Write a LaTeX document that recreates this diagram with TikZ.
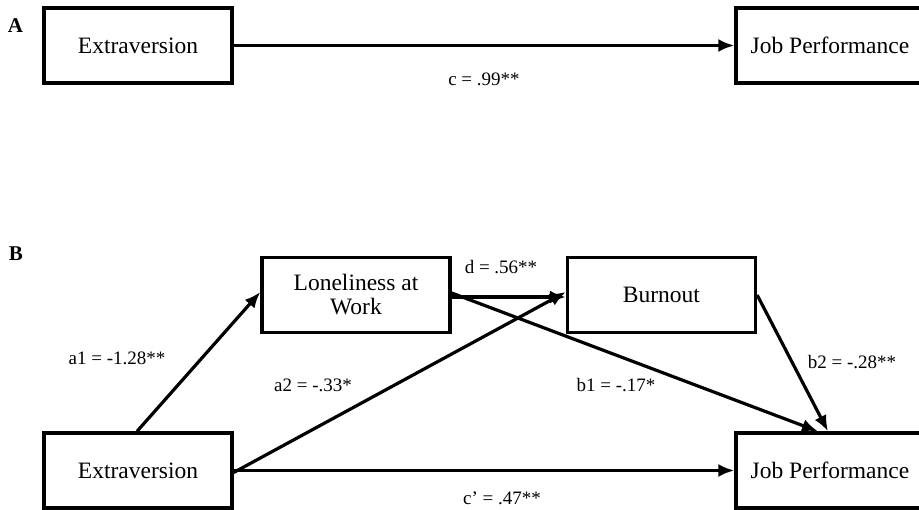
\documentclass[tikz,border=0pt]{standalone}
\usepackage{fontspec}
\setmainfont{Liberation Serif}
\usetikzlibrary{arrows.meta}
\begin{document}
\begin{tikzpicture}[x=1pt,y=-1pt,
	varbox/.style={draw,line width=3.3pt,minimum width=188pt,minimum height=75pt,align=center,inner sep=2pt,font=\fontsize{23.5}{24}\selectfont},
	coef/.style={inner sep=0pt,font=\fontsize{19}{20}\selectfont},
	panel/.style={inner sep=0pt,font=\fontsize{21}{22}\selectfont\bfseries},
	path/.style={line width=3.2pt,-{Latex[length=16pt,width=13pt]}}]
	\useasboundingbox (0,0) rectangle (919,510);
	\node[panel] (pA) at (15.5,26) {A};
	\node[varbox] (extA) at (138,45.5) {Extraversion};
	\node[varbox] (jobA) at (830,45.5) {Job Performance};
	\draw[path] (extA.east) -- (jobA.west);
	\node[coef] (cA) at (484,79) {c = .99**};
	\node[panel] (pB) at (16,254) {B};
	\node[varbox] (lone) at (356,295) {Loneliness at\\Work};
	\node[varbox] (burn) at (661.5,295) {Burnout};
	\node[varbox] (extB) at (138,470.5) {Extraversion};
	\node[varbox] (jobB) at (830,470.5) {Job Performance};
	\draw[path] ([xshift=-1pt]extB.north) -- ([yshift=3pt]lone.west);
	\draw[path] ([yshift=-2pt]extB.east) -- ([yshift=3pt]burn.west);
	\draw[path] ([yshift=-2pt]lone.east) -- ([yshift=-2pt]burn.west);
	\draw[path] ([yshift=2pt]lone.east) -- ([xshift=-12pt]jobB.north);
	\draw[path] (burn.east) -- ([xshift=-2pt]jobB.north);
	\draw[path] (extB.east) -- (jobB.west);
	\node[coef] (a1) at (117,358) {a1 = -1.28**};
	\node[coef] (a2) at (313,385) {a2 = -.33*};
	\node[coef] (d) at (501,267) {d = .56**};
	\node[coef] (b1) at (616,385) {b1 = -.17*};
	\node[coef] (b2) at (852,362) {b2 = -.28**};
	\node[coef] (cB) at (502,498) {c’ = .47**};
\end{tikzpicture}
\end{document}
